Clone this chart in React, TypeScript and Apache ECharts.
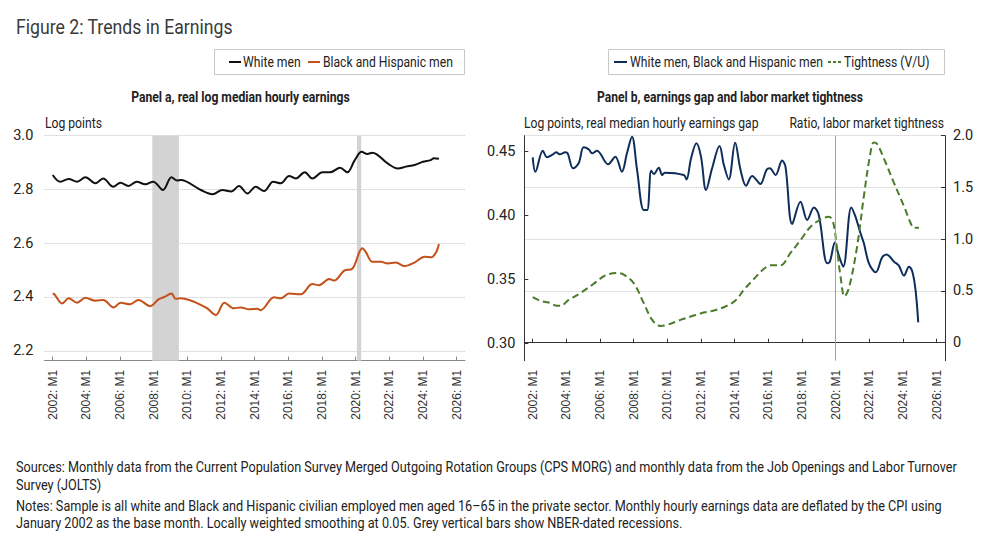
import React, { useEffect, useRef } from 'react';
import * as echarts from 'echarts';

const FONT = 'Roboto';
const ARIAL = "'Liberation Sans', Arial, sans-serif";

const xTickYears = [2002, 2004, 2006, 2008, 2010, 2012, 2014, 2016, 2018, 2020, 2022, 2024, 2026];
const panelATicks = [2.2, 2.4, 2.6, 2.8, 3.0];
const gapTicks = [0.3, 0.35, 0.4, 0.45];
const ratioTicks = [0, 0.5, 1.0, 1.5, 2.0];
const recessions = [[2007.92, 2009.5], [2020.08, 2020.33]];
const pandemicLine = 2020;

const whiteMen: [number, number][] = [
  [2002.0, 2.854], [2002.45, 2.829], [2002.95, 2.839], [2003.45, 2.829], [2003.94, 2.845], [2004.54, 2.823],
  [2005.0, 2.841], [2005.6, 2.81], [2006.03, 2.825], [2006.5, 2.813], [2007.0, 2.829], [2007.5, 2.819],
  [2007.97, 2.829], [2008.55, 2.798], [2009.06, 2.845], [2009.4, 2.833], [2009.6, 2.835], [2010.8, 2.798],
  [2011.5, 2.782], [2012.08, 2.798], [2012.6, 2.792], [2013.07, 2.813], [2013.57, 2.785], [2014.06, 2.81],
  [2014.56, 2.794], [2015.1, 2.829], [2015.55, 2.823], [2016.05, 2.85], [2016.44, 2.841], [2016.98, 2.864],
  [2017.43, 2.841], [2018.03, 2.864], [2018.5, 2.864], [2019.08, 2.881], [2019.5, 2.864], [2019.95, 2.909],
  [2020.36, 2.94], [2020.7, 2.932], [2021.0, 2.937], [2021.9, 2.897], [2022.5, 2.878], [2023.0, 2.885],
  [2023.5, 2.891], [2024.0, 2.903], [2024.45, 2.909], [2024.65, 2.916], [2024.95, 2.914],
];

const blackHispanicMen: [number, number][] = [
  [2002.0, 2.413], [2002.1, 2.41], [2002.56, 2.376], [2002.95, 2.395], [2003.45, 2.379], [2003.94, 2.397],
  [2004.54, 2.386], [2005.0, 2.389], [2005.63, 2.361], [2006.03, 2.379], [2006.6, 2.373], [2007.1, 2.389],
  [2007.8, 2.366], [2008.3, 2.392], [2008.6, 2.399], [2009.06, 2.413], [2009.3, 2.393], [2009.6, 2.395],
  [2011.1, 2.361], [2011.7, 2.333], [2012.2, 2.379], [2012.77, 2.358], [2013.17, 2.361], [2013.67, 2.354],
  [2014.16, 2.356], [2014.36, 2.351], [2015.15, 2.399], [2015.55, 2.395], [2016.05, 2.413], [2016.74, 2.41],
  [2017.43, 2.448], [2017.83, 2.444], [2018.43, 2.467], [2018.73, 2.461], [2019.32, 2.498], [2019.82, 2.506],
  [2020.4, 2.581], [2020.6, 2.568], [2021.0, 2.531], [2021.5, 2.531], [2021.9, 2.525], [2022.4, 2.528],
  [2022.9, 2.515], [2023.5, 2.528], [2024.1, 2.55], [2024.5, 2.548], [2024.8, 2.568], [2024.95, 2.597],
];

const earningsGap: [number, number][] = [
  [2002.0, 0.4456], [2002.16, 0.4343], [2002.6, 0.4508], [2002.85, 0.4456], [2003.15, 0.4474], [2003.4, 0.4495],
  [2003.6, 0.4479], [2003.94, 0.4495], [2004.08, 0.4487], [2004.4, 0.437], [2004.73, 0.4409], [2005.03, 0.4534],
  [2005.33, 0.4518], [2005.53, 0.4487], [2005.82, 0.4508], [2006.48, 0.4401], [2006.91, 0.4461], [2007.3, 0.4343],
  [2007.6, 0.4487], [2007.9, 0.4617], [2008.2, 0.4357], [2008.6, 0.4043], [2008.8, 0.4043], [2009.04, 0.4351],
  [2009.2, 0.4325], [2009.49, 0.4375], [2009.69, 0.4317], [2009.85, 0.4336], [2010.98, 0.4317], [2011.14, 0.4283],
  [2011.41, 0.4448], [2011.73, 0.4565], [2012.0, 0.4461], [2012.3, 0.42], [2012.66, 0.437], [2013.1, 0.4544],
  [2013.36, 0.4396], [2013.65, 0.4283], [2014.03, 0.457], [2014.35, 0.4357], [2014.68, 0.4234], [2015.04, 0.431],
  [2015.53, 0.4247], [2015.89, 0.4357], [2016.09, 0.437], [2016.43, 0.4317], [2016.82, 0.443], [2017.02, 0.4383],
  [2017.42, 0.3934], [2017.91, 0.4109], [2018.31, 0.3965], [2018.71, 0.4064], [2019.0, 0.4004], [2019.5, 0.3626],
  [2019.66, 0.3639], [2019.96, 0.379], [2020.15, 0.3704], [2020.45, 0.36], [2020.93, 0.4064], [2021.18, 0.3991],
  [2021.48, 0.3861], [2021.68, 0.3783], [2021.98, 0.3626], [2022.38, 0.3556], [2022.77, 0.3673], [2023.03, 0.3696],
  [2023.47, 0.3639], [2023.76, 0.3608], [2024.06, 0.353], [2024.36, 0.36], [2024.56, 0.3561], [2024.75, 0.3417],
  [2024.91, 0.3164],
];

const tightness: [number, number][] = [
  [2002.0, 0.44], [2002.45, 0.405], [2002.95, 0.388], [2003.45, 0.356], [2003.65, 0.356], [2004.14, 0.414],
  [2004.83, 0.479], [2005.63, 0.57], [2006.32, 0.65], [2007.01, 0.673], [2007.41, 0.657], [2008.0, 0.576],
  [2008.6, 0.382], [2009.1, 0.22], [2009.59, 0.162], [2009.99, 0.172], [2010.78, 0.22], [2011.57, 0.262],
  [2012.17, 0.291], [2012.76, 0.311], [2013.45, 0.35], [2014.05, 0.408], [2014.55, 0.511], [2015.14, 0.615],
  [2015.73, 0.712], [2016.13, 0.748], [2016.72, 0.748], [2017.32, 0.867], [2017.91, 0.99], [2018.51, 1.12],
  [2019.1, 1.19], [2019.6, 1.217], [2019.86, 1.159], [2020.09, 0.9], [2020.29, 0.641], [2020.53, 0.447],
  [2020.79, 0.527], [2021.28, 0.932], [2021.68, 1.417], [2022.04, 1.806], [2022.27, 1.935], [2022.47, 1.919],
  [2022.97, 1.741], [2023.46, 1.547], [2024.06, 1.32], [2024.45, 1.159], [2024.65, 1.11], [2024.95, 1.11],
];

const seriesNames = [
  'White men',
  'Black and Hispanic men',
  'White men, Black and Hispanic men',
  'Tightness (V/U)',
];
const seriesColors = ['#111111', '#c4501b', '#0e2d5b', '#4a7c2b'];

const noteLines = [
  'Sources: Monthly data from the Current Population Survey Merged Outgoing Rotation Groups (CPS MORG) and monthly data from the Job Openings and Labor Turnover',
  'Survey (JOLTS)',
  'Notes: Sample is all white and Black and Hispanic civilian employed men aged 16\u201365 in the private sector. Monthly hourly earnings data are deflated by the CPI using',
  'January 2002 as the base month. Locally weighted smoothing at 0.05. Grey vertical bars show NBER-dated recessions.',
];
const noteY = [467, 485, 506, 523];

let measureCtx: CanvasRenderingContext2D | null = null;
function measure(text: string, size: number, weight: string | number = 'normal') {
  if (!measureCtx) measureCtx = document.createElement('canvas').getContext('2d');
  if (!measureCtx) return text.length * size * 0.5;
  measureCtx.font = `${weight} ${size}px ${FONT}`;
  return measureCtx.measureText(text).width;
}

// text squeezed horizontally to a target width (the reference uses a condensed face)
function fitText(text: string, x: number, y: number, width: number, size: number, opts: any = {}, scaleOverride?: number) {
  const weight = opts.fontWeight || 'normal';
  const sx = scaleOverride ?? width / measure(text, size, weight);
  return {
    type: 'text',
    x,
    y,
    scaleX: sx,
    silent: true,
    style: {
      text,
      fontFamily: FONT,
      fontSize: size,
      fill: '#222',
      textAlign: 'left',
      textVerticalAlign: 'middle',
      ...opts,
    },
  };
}

function xAxisFor(gridIndex: number, lineColor: string) {
  return {
    type: 'value',
    gridIndex,
    min: 2001.5,
    max: 2026.5,
    axisLine: { show: true, lineStyle: { color: lineColor, width: 1 } },
    axisTick: { show: true, inside: true, length: 4, customValues: xTickYears, lineStyle: { color: lineColor } },
    axisLabel: {
      customValues: xTickYears,
      rotate: 90,
      margin: 9,
      fontFamily: ARIAL,
      fontSize: 12,
      color: '#333',
      formatter: (v: number) => `${v}: M1`,
    },
    splitLine: { show: false },
  };
}

function legendBox(x: number, y: number, w: number, h: number) {
  return {
    type: 'rect',
    silent: true,
    shape: { x: x + 0.5, y: y + 0.5, width: w, height: h },
    style: { fill: '#fff', stroke: '#c8c8c8', lineWidth: 1 },
  };
}
function legendLine(x1: number, x2: number, y: number, color: string, dash?: number[]) {
  return {
    type: 'line',
    silent: true,
    shape: { x1, y1: y, x2, y2: y },
    style: { stroke: color, lineWidth: 2, lineDash: dash },
  };
}

const yLabelStyle = { fontFamily: FONT, fontSize: 14.5, color: '#222' };

export default function App() {
  const ref = useRef<HTMLDivElement>(null);
  useEffect(() => {
    const chart = echarts.init(ref.current!, null, { renderer: 'svg' });
    const noteScale = 942 / measure(noteLines[0], 14.5);
    const legendScale = 130 / measure(seriesNames[1], 14);
    const option: any = {
      animation: false,
      backgroundColor: '#fff',
      grid: [
        { left: 44.3, right: 526, top: 135.7, bottom: 175.3, containLabel: false },
        { left: 524.3, right: 46, top: 135.7, bottom: 175.3, containLabel: false },
      ],
      xAxis: [xAxisFor(0, '#888'), xAxisFor(1, '#333')],
      yAxis: [
        {
          type: 'value',
          gridIndex: 0,
          min: 2.163,
          max: 3.0,
          axisLine: { show: false },
          axisTick: { show: false, customValues: panelATicks },
          axisLabel: { ...yLabelStyle, customValues: panelATicks, margin: 11, formatter: (v: number) => v.toFixed(1) },
          splitLine: { show: true, lineStyle: { color: '#c4c4c4', type: 'dotted', width: 1 } },
        },
        {
          type: 'value',
          gridIndex: 1,
          position: 'left',
          min: 0.2864,
          max: 0.4625,
          axisLine: { show: true, lineStyle: { color: '#333' } },
          axisTick: { show: true, inside: true, length: 4, customValues: gapTicks, lineStyle: { color: '#333' } },
          axisLabel: { ...yLabelStyle, customValues: gapTicks, margin: 9, formatter: (v: number) => v.toFixed(2) },
          splitLine: { show: false },
        },
        {
          type: 'value',
          gridIndex: 1,
          position: 'right',
          min: -0.174,
          max: 2.0,
          axisLine: { show: true, lineStyle: { color: '#333' } },
          axisTick: { show: true, inside: true, length: 4, customValues: ratioTicks, lineStyle: { color: '#333' } },
          axisLabel: {
            ...yLabelStyle,
            customValues: ratioTicks,
            margin: 8,
            formatter: (v: number) => (v === 0 ? '0' : v.toFixed(1)),
          },
          splitLine: { show: true, lineStyle: { color: '#c4c4c4', type: 'dotted', width: 1 } },
        },
      ],
      series: [
        {
          name: seriesNames[0],
          type: 'line',
          xAxisIndex: 0,
          yAxisIndex: 0,
          data: whiteMen,
          smooth: 0.35,
          symbol: 'none',
          showSymbol: false,
          lineStyle: { color: seriesColors[0], width: 2 },
          itemStyle: { color: seriesColors[0] },
          z: 3,
          markArea: {
            silent: true,
            itemStyle: { color: '#d3d3d3' },
            data: recessions.map(([a, b]) => [{ xAxis: a }, { xAxis: b }]),
          },
        },
        {
          name: seriesNames[1],
          type: 'line',
          xAxisIndex: 0,
          yAxisIndex: 0,
          data: blackHispanicMen,
          smooth: 0.35,
          symbol: 'none',
          showSymbol: false,
          lineStyle: { color: seriesColors[1], width: 2 },
          itemStyle: { color: seriesColors[1] },
          z: 3,
        },
        {
          name: seriesNames[2],
          type: 'line',
          xAxisIndex: 1,
          yAxisIndex: 1,
          data: earningsGap,
          smooth: 0.35,
          symbol: 'none',
          showSymbol: false,
          lineStyle: { color: seriesColors[2], width: 2 },
          itemStyle: { color: seriesColors[2] },
          z: 3,
          markLine: {
            silent: true,
            symbol: 'none',
            label: { show: false },
            lineStyle: { color: '#a0a0a0', width: 1, type: 'solid' },
            data: [{ xAxis: pandemicLine }],
          },
        },
        {
          name: seriesNames[3],
          type: 'line',
          xAxisIndex: 1,
          yAxisIndex: 2,
          data: tightness,
          smooth: 0.35,
          symbol: 'none',
          showSymbol: false,
          lineStyle: { color: seriesColors[3], width: 2, type: [7, 4] },
          itemStyle: { color: seriesColors[3] },
          z: 3,
        },
      ],
      graphic: [
        fitText('Figure 2: Trends in Earnings', 16, 28, 217, 20, { fill: '#3a3a3a' }),
        // legend, panel a
        legendBox(214, 49, 250, 25),
        legendLine(229, 241, 62, seriesColors[0]),
        fitText(seriesNames[0], 243, 62, 0, 14, {}, legendScale),
        legendLine(308, 320, 62, seriesColors[1]),
        fitText(seriesNames[1], 323, 62, 0, 14, {}, legendScale),
        // legend, panel b
        legendBox(608, 49, 336, 25),
        legendLine(614, 627, 62, seriesColors[2]),
        fitText(seriesNames[2], 630, 62, 0, 14, {}, legendScale),
        legendLine(828, 841, 62, seriesColors[3], [3, 2]),
        fitText(seriesNames[3], 844, 62, 0, 14, {}, legendScale),
        // panel headings
        fitText('Panel a, real log median hourly earnings', 240.5, 97, 219, 14.5, { textAlign: 'center', fontWeight: 'bold' }),
        fitText('Panel b, earnings gap and labor market tightness', 730, 97, 266, 14.5, { textAlign: 'center', fontWeight: 'bold' }),
        fitText('Log points', 45, 123, 0, 14, {}, legendScale),
        fitText('Log points, real median hourly earnings gap', 524, 123, 0, 14, {}, legendScale),
        fitText('Ratio, labor market tightness', 944, 123, 0, 14, { textAlign: 'right' }, legendScale),
        ...noteLines.map((t, i) => fitText(t, 16, noteY[i], 0, 14.5, {}, noteScale)),
      ],
    };
    chart.setOption(option);
    return () => chart.dispose();
  }, []);
  return (
    <div
      ref={ref}
      style={{ position: 'fixed', left: 0, top: 0, width: 991, height: 536, background: '#fff' }}
    />
  );
}
